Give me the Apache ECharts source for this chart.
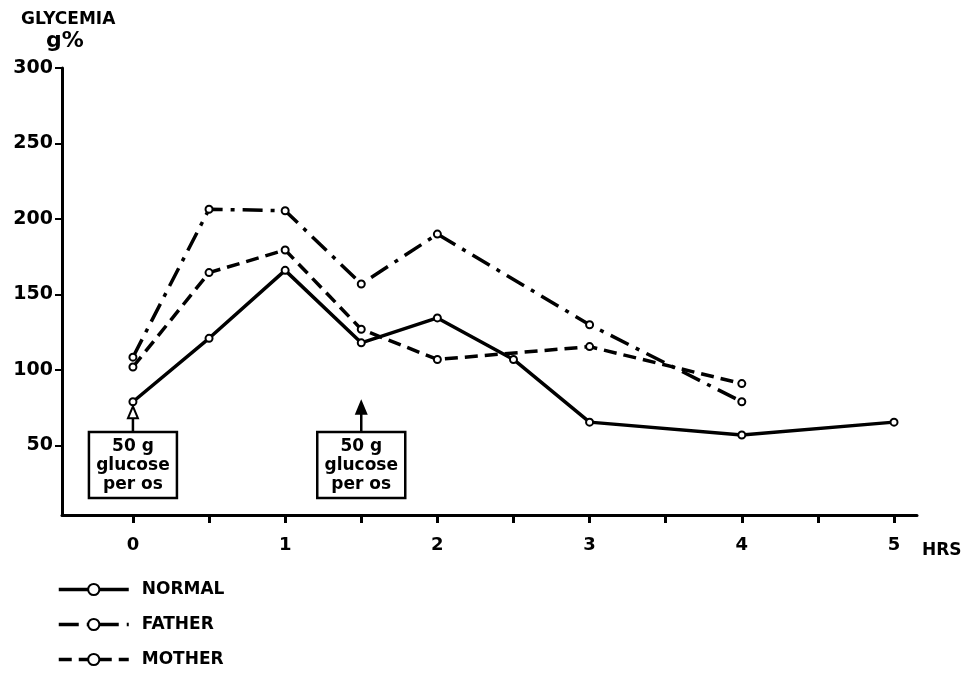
<!DOCTYPE html>
<html>
<head>
<meta charset="utf-8">
<script src="https://cdn.jsdelivr.net/npm/echarts@6/dist/echarts.min.js"></script>
<style>
html,body{margin:0;padding:0;background:#fff;}
#c{width:970px;height:674px;}
</style>
</head>
<body>
<div id="c"></div>
<script>
// ---- data ----
var normalHours = [0, 0.5, 1, 1.5, 2, 2.5, 3, 4, 5];
var normalValues = [79, 121, 166, 118, 134.5, 107, 65.5, 57, 65.5];
var fatherHours = [0, 0.5, 1, 1.5, 2, 3, 4];
var fatherValues = [108.5, 206.5, 205.5, 157, 190, 130, 79];
var motherHours = [0, 0.5, 1, 1.5, 2, 3, 4];
var motherValues = [102, 164.5, 179.5, 127, 107, 115.5, 91];
var xTicks = [0, 0.5, 1, 1.5, 2, 2.5, 3, 3.5, 4, 4.5, 5];
var xLabels = [0, 1, 2, 3, 4, 5];
var yTicks = [50, 100, 150, 200, 250, 300];
var doseHours = [0, 1.5];
var doseArrowTip = [76, 79];
var doseText = '50 g\nglucose\nper os';

function pairs(xs, ys) { return xs.map(function (x, i) { return [x, ys[i]]; }); }

var FONT = 'DejaVu Sans';
var chart = echarts.init(document.getElementById('c'), null, { renderer: 'canvas' });

var option = {
  backgroundColor: '#ffffff',
  animation: false,
  grid: { left: 62, right: 53, top: 68, bottom: 159, containLabel: false },
  xAxis: {
    type: 'value', min: -0.466, max: 5.151,
    splitLine: { show: false },
    axisLine: { show: true, onZero: false, lineStyle: { color: '#000', width: 3 } },
    axisTick: { show: true, length: 8, inside: false, customValues: xTicks, lineStyle: { color: '#000', width: 3 } },
    axisLabel: { customValues: xLabels, margin: 21, color: '#000', fontFamily: FONT, fontWeight: 'bold', fontSize: 18 },
    name: 'HRS', nameLocation: 'end', nameGap: 5,
    nameTextStyle: { color: '#000', fontFamily: FONT, fontWeight: 'bold', fontSize: 17, verticalAlign: 'top', padding: [27, 0, 0, 0] }
  },
  yAxis: {
    type: 'value', min: 4, max: 300,
    splitLine: { show: false },
    axisLine: { show: true, onZero: false, lineStyle: { color: '#000', width: 3 } },
    axisTick: { show: true, length: 7, inside: false, customValues: yTicks, lineStyle: { color: '#000', width: 2 } },
    axisLabel: { customValues: yTicks, margin: 9, color: '#000', fontFamily: FONT, fontWeight: 'bold', fontSize: 19 }
  },
  legend: {
    orient: 'vertical', left: 57, top: 581, padding: 0, height: 120,
    itemWidth: 70, itemHeight: 14, itemGap: 18,
    lineStyle: { width: 3.5 },
    textStyle: { color: '#000', fontFamily: FONT, fontWeight: 'bold', fontSize: 17, padding: [0, 0, 0, 8] },
    data: ['NORMAL', 'FATHER', 'MOTHER']
  },
  series: [
    {
      name: 'NORMAL', type: 'line', data: pairs(normalHours, normalValues),
      symbol: 'circle', symbolSize: 7,
      lineStyle: { color: '#000', width: 3.5, type: 'solid' },
      itemStyle: { color: '#fff', borderColor: '#000', borderWidth: 2 }
    },
    {
      name: 'FATHER', type: 'line', data: pairs(fatherHours, fatherValues),
      symbol: 'circle', symbolSize: 7,
      lineStyle: { color: '#000', width: 3.5, type: [20, 8, 4, 8] },
      itemStyle: { color: '#fff', borderColor: '#000', borderWidth: 2 }
    },
    {
      name: 'MOTHER', type: 'line', data: pairs(motherHours, motherValues),
      symbol: 'circle', symbolSize: 7,
      lineStyle: { color: '#000', width: 3.5, type: [13, 7] },
      itemStyle: { color: '#fff', borderColor: '#000', borderWidth: 2 }
    }
  ]
};
chart.setOption(option);

// annotations: axis title and glucose dose boxes
var graphics = [
  { type: 'text', left: 21, top: 11, style: { text: 'GLYCEMIA', fill: '#000', font: 'bold 17px "DejaVu Sans"' } },
  { type: 'text', left: 46, top: 30, style: { text: 'g%', fill: '#000', font: 'bold 22px "DejaVu Sans"' } }
];
doseHours.forEach(function (h, i) {
  var top = chart.convertToPixel({ gridIndex: 0 }, [h, 59]);
  var tip = chart.convertToPixel({ gridIndex: 0 }, [h, doseArrowTip[i]]);
  var cx = top[0], ty = top[1];
  var w = 88, hgt = 66;
  graphics.push({
    type: 'rect', shape: { x: cx - w / 2, y: ty, width: w, height: hgt },
    style: { fill: '#fff', stroke: '#000', lineWidth: 2.5 }, z: 10
  });
  graphics.push({
    type: 'text', x: cx, y: ty + 5, z: 11,
    style: { text: doseText, fill: '#000', font: 'bold 17px "DejaVu Sans"', align: 'center', verticalAlign: 'top', lineHeight: 19 }
  });
  graphics.push({
    type: 'line', shape: { x1: cx, y1: ty, x2: cx, y2: tip[1] + 8 },
    style: { stroke: '#000', lineWidth: 2.5 }, z: 10
  });
  graphics.push({
    type: 'polygon', shape: { points: [[cx, tip[1]], [cx - 5, tip[1] + 12], [cx + 5, tip[1] + 12]] },
    style: { fill: i === 0 ? '#fff' : '#000', stroke: '#000', lineWidth: 2 }, z: 10
  });
});
chart.setOption({ graphic: graphics });
</script>
</body>
</html>
